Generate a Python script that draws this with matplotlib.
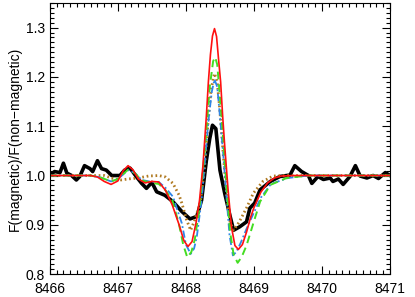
import matplotlib.pyplot as plt
from matplotlib.ticker import MultipleLocator

plt.rcParams['font.family'] = ['Liberation Sans', 'DejaVu Sans']

# observed ratio (thick black)
obs_wl = [8466.00, 8466.07, 8466.15, 8466.20, 8466.25, 8466.32, 8466.39, 8466.44,
          8466.51, 8466.59, 8466.63, 8466.70, 8466.76, 8466.83, 8466.91, 8467.03,
          8467.10, 8467.18, 8467.27, 8467.35, 8467.42, 8467.50, 8467.57, 8467.69,
          8467.81, 8467.94, 8468.06, 8468.16, 8468.23, 8468.30, 8468.35, 8468.39,
          8468.44, 8468.50, 8468.57, 8468.65, 8468.70, 8468.79, 8468.89, 8468.94,
          8469.01, 8469.09, 8469.24, 8469.38, 8469.53, 8469.60, 8469.70, 8469.80,
          8469.85, 8469.94, 8470.02, 8470.12, 8470.16, 8470.24, 8470.31, 8470.41,
          8470.49, 8470.56, 8470.66, 8470.75, 8470.83, 8470.93, 8471.00]
obs_fl = [1.001, 1.008, 1.006, 1.025, 1.005, 1.000, 0.991, 0.998,
          1.020, 1.014, 1.008, 1.030, 1.014, 1.011, 1.000, 1.000,
          1.011, 1.015, 0.998, 0.984, 0.974, 0.986, 0.967, 0.960,
          0.947, 0.927, 0.912, 0.917, 0.950, 1.030, 1.075, 1.102,
          1.095, 1.011, 0.964, 0.917, 0.889, 0.896, 0.906, 0.934,
          0.944, 0.971, 0.988, 0.998, 1.001, 1.020, 1.008, 1.000,
          0.984, 0.998, 0.992, 0.995, 0.988, 0.993, 0.982, 0.998,
          1.020, 0.999, 0.995, 1.000, 0.994, 1.006, 1.000]

# model: red solid
red_wl = [8466.0, 8466.6, 8466.7, 8466.8, 8466.9, 8467.0, 8467.08, 8467.15, 8467.22,
          8467.3, 8467.4, 8467.5, 8467.6, 8467.7, 8467.8, 8467.9, 8467.97, 8468.03,
          8468.09, 8468.15, 8468.2, 8468.25, 8468.3, 8468.33, 8468.36, 8468.39,
          8468.42, 8468.45, 8468.48, 8468.51, 8468.54, 8468.57, 8468.62, 8468.67,
          8468.72, 8468.77, 8468.83, 8468.89, 8468.95, 8469.0, 8469.1, 8469.2,
          8469.3, 8469.4, 8469.6, 8471.0]
red_fl = [1.000, 1.000, 0.997, 0.988, 0.982, 0.989, 1.010, 1.020, 1.012,
          0.993, 0.985, 0.988, 0.987, 0.970, 0.940, 0.900, 0.868, 0.856,
          0.866, 0.905, 0.950, 1.020, 1.120, 1.190, 1.245, 1.283,
          1.298, 1.282, 1.235, 1.190, 1.120, 1.060, 0.970, 0.895,
          0.858, 0.850, 0.860, 0.885, 0.915, 0.935, 0.966, 0.985,
          0.995, 0.999, 1.000, 1.000]

# model: green dashed
grn_wl = [8466.0, 8466.6, 8466.75, 8466.9, 8467.0, 8467.15, 8467.25, 8467.35, 8467.5,
          8467.6, 8467.7, 8467.8, 8467.9, 8467.96, 8468.02, 8468.08, 8468.13, 8468.2,
          8468.25, 8468.3, 8468.35, 8468.4, 8468.43, 8468.46, 8468.5, 8468.55,
          8468.6, 8468.65, 8468.7, 8468.76, 8468.82, 8468.89, 8468.99, 8469.09,
          8469.24, 8469.48, 8469.8, 8471.0]
grn_fl = [1.000, 1.000, 0.996, 0.988, 0.993, 1.012, 1.005, 0.990, 0.985,
          0.983, 0.970, 0.950, 0.900, 0.860, 0.834, 0.845, 0.870, 0.935,
          1.010, 1.090, 1.180, 1.232, 1.240, 1.225, 1.160, 1.070,
          0.970, 0.885, 0.840, 0.823, 0.835, 0.858, 0.903, 0.947,
          0.981, 0.995, 1.000, 1.000]

# model: blue dash-dot
blu_wl = [8466.0, 8466.6, 8466.75, 8466.9, 8467.0, 8467.15, 8467.25, 8467.35, 8467.5,
          8467.6, 8467.7, 8467.81, 8467.94, 8468.0, 8468.07, 8468.12, 8468.16, 8468.23,
          8468.28, 8468.33, 8468.38, 8468.42, 8468.46, 8468.5, 8468.55, 8468.6,
          8468.64, 8468.69, 8468.74, 8468.8, 8468.9, 8469.0, 8469.1, 8469.25,
          8469.5, 8469.8, 8471.0]
blu_fl = [1.000, 1.000, 0.996, 0.988, 0.993, 1.011, 1.005, 0.991, 0.987,
          0.987, 0.975, 0.957, 0.903, 0.860, 0.841, 0.852, 0.876, 0.950,
          1.030, 1.110, 1.170, 1.195, 1.180, 1.120, 1.040, 0.950,
          0.880, 0.838, 0.845, 0.862, 0.895, 0.925, 0.955, 0.983,
          0.995, 1.000, 1.000]

# model: brown dotted
brn_wl = [8466.0, 8466.8, 8466.95, 8467.05, 8467.15, 8467.3, 8467.45, 8467.6, 8467.7,
          8467.81, 8467.9, 8467.94, 8468.01, 8468.07, 8468.13, 8468.21, 8468.27, 8468.32,
          8468.37, 8468.42, 8468.46, 8468.5, 8468.55, 8468.6, 8468.65, 8468.70,
          8468.78, 8468.89, 8468.99, 8469.13, 8469.28, 8469.5, 8471.0]
brn_fl = [1.000, 1.000, 0.993, 0.991, 0.993, 0.995, 0.999, 1.000, 0.997,
          0.984, 0.960, 0.944, 0.910, 0.889, 0.910, 0.944, 1.010, 1.100,
          1.175, 1.207, 1.190, 1.130, 1.040, 0.960, 0.905, 0.889,
          0.905, 0.934, 0.964, 0.988, 0.999, 1.000, 1.000]

fig = plt.figure(figsize=(4.15, 2.97), dpi=100)
ax = fig.add_axes([0.12, 0.077, 0.82, 0.913])

ax.plot(obs_wl, obs_fl, color='black', lw=2.6)
ax.plot(brn_wl, brn_fl, color='#b07a22', lw=2.0, ls=(0, (0.6, 1.0)))
ax.plot(blu_wl, blu_fl, color='#2f86e8', lw=1.3, ls=(0, (4, 1.5, 1, 1.5)))
ax.plot(grn_wl, grn_fl, color='#44dd22', lw=1.4, ls=(0, (4, 2.5)))
ax.plot(red_wl, red_fl, color='#ff1010', lw=1.2)

ax.set_xlim(8466, 8471)
ax.set_ylim(0.8, 1.35)
ax.xaxis.set_major_locator(MultipleLocator(1))
ax.xaxis.set_minor_locator(MultipleLocator(0.1))
ax.yaxis.set_minor_locator(MultipleLocator(0.01))
ax.set_yticks([0.8, 0.9, 1.0, 1.1, 1.2, 1.3])
ax.set_yticklabels(['0.8', '0.9', '1.0', '1.1', '1.2', '1.3'])
ax.tick_params(which='both', direction='in', top=True, right=True,
               labelsize=10, width=0.8)
ax.tick_params(axis='x', pad=6)
ax.tick_params(which='major', length=6)
ax.tick_params(which='minor', length=3)
for s in ax.spines.values():
    s.set_linewidth(0.8)

ax.set_ylabel('F(magnetic)/F(non\u2212magnetic)', fontsize=10, labelpad=3)

plt.savefig('out.png', dpi=100)
